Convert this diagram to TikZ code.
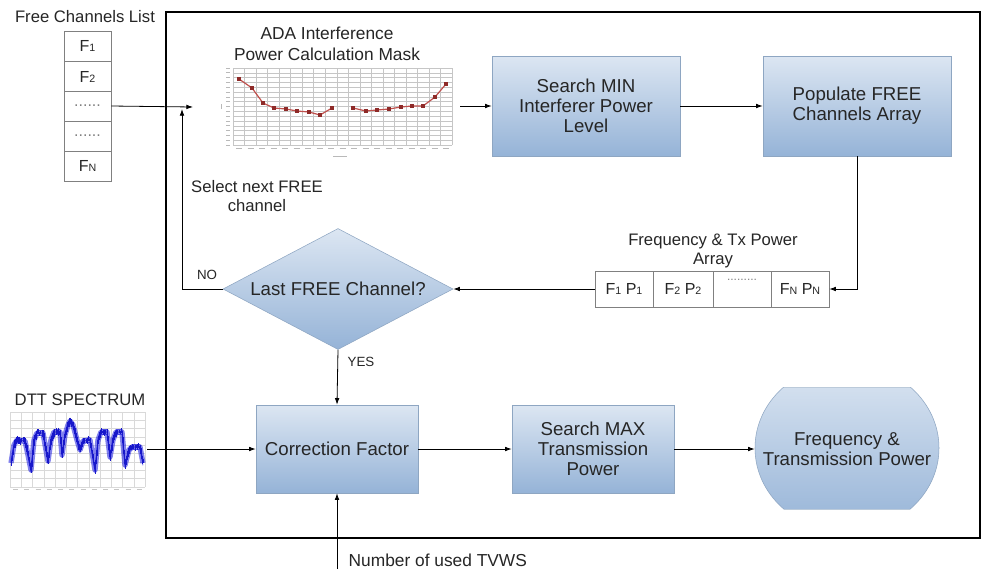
\documentclass[tikz,border=0pt]{standalone}
\usepackage{fontspec}
\setmainfont{Liberation Sans}
\usetikzlibrary{arrows.meta,shapes.geometric,calc,decorations.markings}

\definecolor{boxtop}{HTML}{DCE6F2}
\definecolor{boxbot}{HTML}{95B3D7}
\definecolor{boxline}{HTML}{8EA6C2}
\definecolor{txt}{HTML}{262626}
\definecolor{cellline}{HTML}{808080}
\definecolor{redline}{HTML}{C0504D}
\definecolor{redmark}{HTML}{8E2A28}
\definecolor{dttblue}{HTML}{1A1AE0}

\newcommand\sbs[1]{{\fontsize{8}{8}\selectfont #1}}
\newcommand\dttpts{(11,463) (14,445) (17,440) (25,441) (28,455) (31,470) (34,440) (37,433) (43,433) (46,450) (48,461) (51,440) (54,432) (60,432) (62,455) (65,435) (68,425) (70,421) (73,425) (77,440) (80,450) (83,441) (90,440) (93,458) (95,470) (98,440) (101,432) (107,432) (110,457) (113,440) (116,432) (122,432) (125,465) (129,450) (132,447) (140,447) (143,463)}

\begin{document}
\begin{tikzpicture}[x=0.75pt,y=-0.75pt,
  every node/.style={text=txt},
  procbox/.style={draw=boxline, top color=boxtop, bottom color=boxbot, minimum width=141pt, minimum height=75pt, align=center, font=\fontsize{14}{15}\selectfont, inner sep=0},
  smallbox/.style={procbox, minimum width=121.5pt, minimum height=66pt},
  cell/.style={draw=cellline, fill=white, minimum width=35.25pt, minimum height=22.5pt, inner sep=0, font=\fontsize{12}{12}\selectfont},
  acell/.style={draw=cellline, fill=white, minimum width=43.5pt, minimum height=27pt, inner sep=0, font=\fontsize{12}{12}\selectfont},
  arr/.style={-{Latex[length=5pt,width=3.5pt]}, line width=0.6pt},
  lbl/.style={font=\fontsize{12.5}{14}\selectfont, align=center},
]
\useasboundingbox (0,0) rectangle (986,569);
\fill[white] (0,0) rectangle (986,569);
\pgfmathsetseed{4321}

% outer frame
\draw[line width=2pt] (166,12) rectangle (980,538);

% free channels list
\node[lbl] (fcl) at (85,17) {Free Channels List};
\node[cell] (l1) at (87.5,46) {F\sbs{1}};
\node[cell] (l2) at (87.5,76.5) {F\sbs{2}};
\node[cell, text=gray] (l3) at (87.5,106) {......};
\node[cell, text=gray] (l4) at (87.5,136) {......};
\node[cell] (l5) at (87.5,166) {F\sbs{N}};

% ADA chart
\node[font=\fontsize{13}{16}\selectfont, align=center] (adat) at (327,44) {ADA Interference\\Power Calculation Mask};
\foreach \i in {0,...,16}{\draw[gray!45, line width=0.3pt] (233,{68+4.8125*\i}) -- (452,{68+4.8125*\i});}
\foreach \i in {0,...,19}{\draw[gray!45, line width=0.3pt] ({233+11.526*\i},68) -- ++(0,77);}
\foreach \i in {0,...,18}{\draw[gray!55, line width=0.7pt] ({236+11.526*\i},148) -- ++(6,0);}
\foreach \i in {0,...,16}{\draw[gray!55, line width=0.5pt] (226,{68+4.8125*\i}) -- ++(4,0);}
\draw[gray!55, line width=0.7pt] (333,156) -- ++(14,0);
\draw[gray!55, line width=0.7pt] (221,104) -- ++(0,5);
\draw[redline, line width=0.9pt] plot coordinates {(239,79) (252,88) (263,103) (274,108) (286,109) (297,111) (309,112) (320,115) (332,108)};
\draw[redline, line width=0.9pt] plot coordinates {(353,108) (366,111) (377,110) (389,109) (401,107) (412,106) (423,106) (435,97) (446,84)};
\foreach \x/\y in {239/79,252/88,263/103,274/108,286/109,297/111,309/112,320/115,332/108,353/108,366/111,377/110,389/109,401/107,412/106,423/106,435/97,446/84}{\fill[redmark] (\x,\y) +(-1.6,-1.6) rectangle +(1.6,1.6);}

% process boxes
\node[procbox] (minbox) at (586,106) {Search MIN\\Interferer Power\\Level};
\node[procbox] (popbox) at (857,106) {Populate FREE\\Channels Array};

% frequency & power array
\node[lbl] (arrt) at (713,251) {Frequency \& Tx Power\\Array};
\node[acell] (c1) at (624,289) {F\sbs{1} P\sbs{1}};
\node[acell, minimum width=45pt] (c2) at (683,289) {F\sbs{2} P\sbs{2}};
\node[acell] (c3) at (742,289) {};
\node[font=\fontsize{9}{9}\selectfont, text=gray] (c3d) at (742,280) {.........};
\node[acell] (c4) at (800,289) {F\sbs{N} P\sbs{N}};

% decision diamond
\node[diamond, draw=boxline, top color=boxtop, bottom color=boxbot, minimum width=172.5pt, minimum height=90.75pt, inner sep=0] (dia) at (338,289) {};
\node[font=\fontsize{14}{15}\selectfont] (dial) at (338,289) {Last FREE Channel?};
\node[lbl] (sel) at (257,196) {Select next FREE\\channel};
\node[font=\fontsize{10}{10}\selectfont] (no) at (207,275) {NO};
\node[font=\fontsize{10}{10}\selectfont] (yes) at (361,362) {YES};

% DTT spectrum
\node[lbl] (dttt) at (80,400) {DTT SPECTRUM};
\foreach \i in {0,...,12}{\draw[gray!30, line width=0.3pt] ({10+11.25*\i},412) -- ++(0,75);}
\foreach \i in {0,...,9}{\draw[gray!30, line width=0.3pt] (10,{412+8.33*\i}) -- ++(135,0);}
\foreach \i in {0,...,11}{\draw[gray!45, line width=0.5pt] ({13+11.25*\i},489) -- ++(5,0);}
\draw[dttblue, line width=4pt, line join=round, opacity=0.55] plot coordinates {\dttpts};
\draw[dttblue!85!black, line width=0.45pt, line join=round] plot coordinates {\dttpts};
\draw[dttblue, line width=0.35pt, line join=round, yshift=-1.8pt] plot coordinates {\dttpts};
\draw[dttblue, line width=0.35pt, line join=round, yshift=1.8pt] plot coordinates {\dttpts};
\path[postaction={decorate, decoration={markings, mark=between positions 0 and 1 step 0.9pt with {\pgftransformresetnontranslations \draw[dttblue!90!black, line width=0.35pt] (0,{-1-3.5*rnd}) -- (0,{1+3.5*rnd});}}}] plot coordinates {\dttpts};

% bottom row
\node[smallbox] (corr) at (337,449) {Correction Factor};
\node[smallbox] (maxbox) at (593,449) {Search MAX\\Transmission\\Power};
\begin{scope}
\clip (750,387) rectangle (945,509);
\node[ellipse, draw=boxline, top color=boxtop, bottom color=boxbot, minimum width=138pt, minimum height=126pt, inner sep=0] (outshape) at (847,448) {};
\end{scope}
\draw[boxline!60, line width=0.4pt] (784,387) -- (910,387);
\draw[boxline!60, line width=0.4pt] (784,509) -- (910,509);
\node[font=\fontsize{14}{15}\selectfont, align=center, minimum width=138pt, inner sep=0] (out) at (847,449) {Frequency \&\\Transmission Power};
\node[font=\fontsize{13}{14}\selectfont, anchor=west] (tvwst) at (344,560) {Number of used TVWS};

% connectors
\coordinate (listin) at (193,107);
\draw[arr] (l3.east) -- (listin);
\coordinate (noturn) at (182,109);
\draw[arr] (dia.west) -| (noturn);
\coordinate (adaout) at (460,106);
\draw[arr] (adaout) -- (minbox.west);
\draw[arr] (minbox) -- (popbox);
\draw[arr] (popbox.south) |- (c4.east);
\draw[arr] (c1.west) -- (dia.east);
\draw[arr] (dia.south) -- (corr.north);
\coordinate (dttout) at (147,449);
\draw[arr] (dttout) -- (corr.west);
\draw[arr] (corr) -- (maxbox);
\draw[arr] (maxbox) -- (out.west);
\coordinate (tvws) at (337,569);
\draw[arr] (tvws) -- (corr.south);
\end{tikzpicture}
\end{document}
